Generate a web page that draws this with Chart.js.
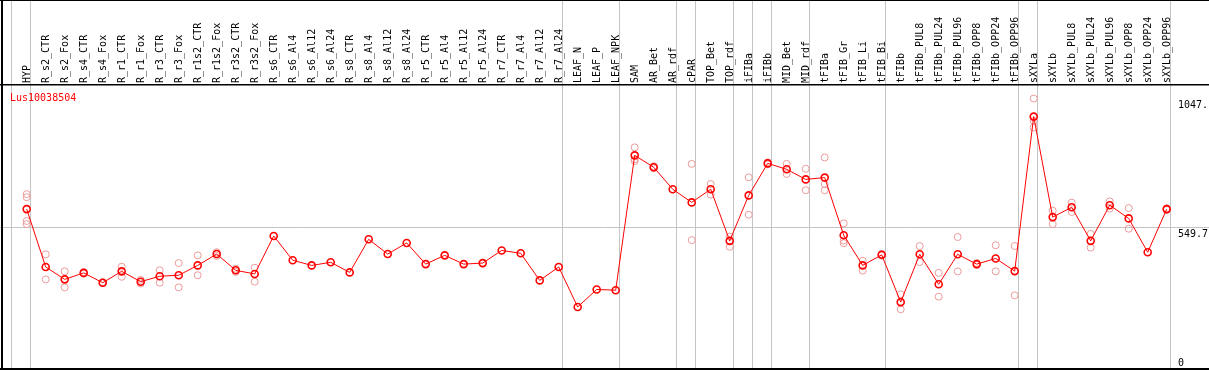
<!DOCTYPE html>
<html>
<head>
<meta charset="utf-8">
<script src="https://cdn.jsdelivr.net/npm/chart.js@4"></script>
<style>
  html, body { margin: 0; padding: 0; background: #fff; }
  canvas { display: block; }
</style>
</head>
<body>
<canvas id="expr" width="1209" height="370"></canvas>
<script>
// Sample columns, in plot order.
var categories = [
  "HYP",
  "R_s2_CTR", "R_s2_Fox", "R_s4_CTR", "R_s4_Fox", "R_r1_CTR", "R_r1_Fox",
  "R_r3_CTR", "R_r3_Fox", "R_r1s2_CTR", "R_r1s2_Fox", "R_r3s2_CTR", "R_r3s2_Fox",
  "R_s6_CTR", "R_s6_Al4", "R_s6_Al12", "R_s6_Al24",
  "R_s8_CTR", "R_s8_Al4", "R_s8_Al12", "R_s8_Al24",
  "R_r5_CTR", "R_r5_Al4", "R_r5_Al12", "R_r5_Al24",
  "R_r7_CTR", "R_r7_Al4", "R_r7_Al12", "R_r7_Al24",
  "LEAF_N", "LEAF_P", "LEAF_NPK",
  "SAM", "AR_Bet", "AR_rdf", "cPAR", "TOP_Bet", "TOP_rdf", "iFIBa", "iFIBb",
  "MID_Bet", "MID_rdf", "tFIBa", "tFIB_Gr", "tFIB_Li", "tFIB_Bi",
  "tFIBb", "tFIBb_PUL8", "tFIBb_PUL24", "tFIBb_PUL96", "tFIBb_OPP8", "tFIBb_OPP24", "tFIBb_OPP96",
  "sXYLa", "sXYLb", "sXYLb_PUL8", "sXYLb_PUL24", "sXYLb_PUL96", "sXYLb_OPP8", "sXYLb_OPP24", "sXYLb_OPP96"
];

// Mean expression per column (red line).
var means = [
  619,
  395, 347, 372, 334, 378, 338, 359, 363, 401, 445, 382, 368,
  515, 421, 401, 413, 374, 502, 445, 488, 406, 440, 406, 410, 459, 448, 343, 395,
  240, 308, 305,
  827, 781, 696, 645, 696, 496, 672, 796, 773, 734,
  741, 518, 401, 442,
  259, 444, 328, 444, 406, 428, 379,
  977, 588, 626, 496, 634, 583, 452, 619
];

// Individual replicates per column (faded circles); empty where they sit under the mean.
var replicates = [
  [677, 665, 573, 561],
  [444, 347], [378, 316], [375, 369], [336, 332], [396, 357], [345, 331],
  [382, 334], [410, 316], [440, 363], [452, 438], [388, 376], [392, 338],
  [], [], [], [], [], [], [], [], [], [], [], [], [], [], [], [],
  [], [], [],
  [858, 812, 805], [785, 777], [], [794, 499], [716, 675], [512, 473],
  [742, 597], [800, 792], [794, 755], [775, 692],
  [819, 716, 692], [564, 497, 487], [419, 381], [445, 439],
  [289, 231], [476, 414], [372, 280], [511, 378], [410, 403], [479, 378], [476, 285],
  [1047, 960, 935], [613, 561], [644, 608], [523, 470], [649, 621], [623, 543], [], [622, 616]
];

// Last column of each sample group; a separator is drawn just after it.
var groupEnds = [-1, 0, 28, 31, 34, 35, 37, 38, 39, 41, 45, 52, 53, 60];

var geneName = "Lus10038504";
var yTickValues = [1047, 549.7, 0];
var yTickLabels = ["1047.", "549.7", "0"];

// Plot top sits at 5% above the max; the header band above it takes 85px of 369.
var plotTop = 1099.4;
var yMax = plotTop * 369 / 284;
var colW = 19;
var xMin = -26.7 / colW;
var xMax = xMin + 1209 / colW;

var FONT = "10px 'DejaVu Sans Mono', monospace";

var meanPoints = means.map(function (v, i) { return { x: i, y: v }; });
var repPoints = [];
replicates.forEach(function (reps, i) {
  reps.forEach(function (v) { repPoints.push({ x: i, y: v }); });
});

// Header labels, gene name, value labels and the black frame.
var decorations = {
  id: "decorations",
  afterDraw: function (chart) {
    var ctx = chart.ctx;
    var xs = chart.scales.x, ys = chart.scales.y;
    var W = chart.width;
    ctx.save();
    ctx.font = FONT;
    ctx.fillStyle = "#000";
    ctx.textBaseline = "alphabetic";
    ctx.textAlign = "left";
    categories.forEach(function (name, i) {
      ctx.save();
      ctx.translate(xs.getPixelForValue(i) + 3, 83);
      ctx.rotate(-Math.PI / 2);
      ctx.fillText(name, 0, 0);
      ctx.restore();
    });

    ctx.fillStyle = "#ff0000";
    ctx.fillText(geneName, 10, 101);

    ctx.textBaseline = "top";
    yTickValues.forEach(function (v, k) {
      var y = Math.min(ys.getPixelForValue(v) + 2, ys.bottom - 11);
      ctx.fillStyle = "#fff";
      ctx.fillRect(1177, y - 1, W - 1177, 12);
      ctx.fillStyle = "#000";
      ctx.fillText(yTickLabels[k], 1178, y);
    });

    ctx.fillStyle = "#000";
    ctx.fillRect(0, 0, W, 1);
    ctx.fillRect(1, 0, 2, chart.height);
    ctx.fillRect(0, ys.bottom - 1, W, 2);
    ctx.restore();
  }
};

new Chart(document.getElementById("expr"), {
  data: {
    datasets: [
      {
        type: "line",
        label: geneName,
        data: meanPoints,
        borderColor: "#ff0000",
        borderWidth: 1,
        pointRadius: 3.5,
        pointBorderWidth: 1.6,
        pointBorderColor: "#ff0000",
        pointBackgroundColor: "rgba(0,0,0,0)",
        tension: 0
      },
      {
        type: "scatter",
        label: "replicates",
        data: repPoints,
        pointRadius: 3.5,
        pointBorderWidth: 1,
        pointBorderColor: "#ec9a9a",
        pointBackgroundColor: "rgba(0,0,0,0)"
      }
    ]
  },
  options: {
    responsive: false,
    animation: false,
    layout: { autoPadding: false, padding: { left: 0, right: 0, top: 0, bottom: 1 } },
    plugins: {
      legend: { display: false },
      tooltip: { enabled: false },
      title: { display: false }
    },
    scales: {
      x: {
        type: "linear",
        min: xMin,
        max: xMax,
        afterBuildTicks: function (s) {
          s.ticks = groupEnds.map(function (g) { return { value: g + 0.2 }; });
        },
        ticks: { display: false, autoSkip: false },
        grid: { color: "#c4c4c4", lineWidth: 1, drawTicks: false },
        border: { display: false }
      },
      y: {
        type: "linear",
        min: 0,
        max: yMax,
        afterBuildTicks: function (s) {
          s.ticks = [{ value: plotTop / 2 }, { value: plotTop }];
        },
        ticks: { display: false },
        grid: {
          drawTicks: false,
          color: function (c) { return c.tick && c.tick.value > 1000 ? "#000" : "#c4c4c4"; },
          lineWidth: function (c) { return c.tick && c.tick.value > 1000 ? 1.5 : 1; }
        },
        border: { display: false }
      }
    }
  },
  plugins: [decorations]
});
</script>
</body>
</html>
